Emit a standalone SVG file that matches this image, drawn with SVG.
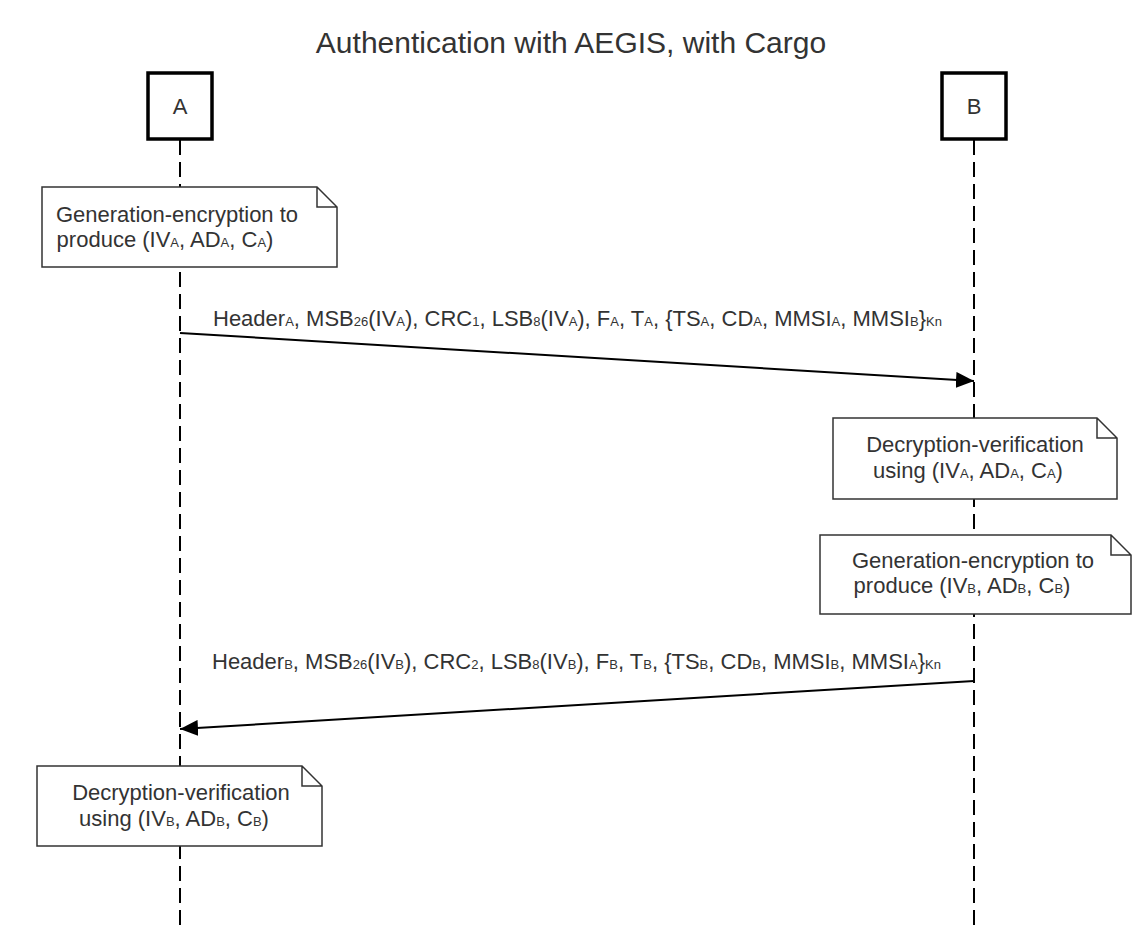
<svg xmlns="http://www.w3.org/2000/svg" width="1141" height="931" viewBox="0 0 1141 931">
<style>
text{font-family:"Liberation Sans",Arial,sans-serif;fill:#333333;}
.t{font-size:22px;}
.m{font-size:22px;}
.s{font-size:13px;}
.title{font-size:30px;}
.actor{fill:#ffffff;stroke:#000000;stroke-width:3.5;}
.life{stroke:#000000;stroke-width:2;stroke-dasharray:15 7;fill:none;}
.note{fill:#ffffff;stroke:#333333;stroke-width:1.5;}
.msg{stroke:#000000;stroke-width:2;fill:none;}
</style>
<defs>
<marker id="arr" viewBox="0 0 18 16" refX="18" refY="8" markerWidth="18" markerHeight="16" markerUnits="userSpaceOnUse" orient="auto">
<path d="M0,0 L18,8 L0,16 z" fill="#000000"/>
</marker>
</defs>
<rect width="1141" height="931" fill="#ffffff"/>
<text class="title" x="571" y="53" text-anchor="middle">Authentication with AEGIS, with Cargo</text>

<g id="lifelines">
<line class="life" x1="180" y1="140" x2="180" y2="931"/>
<line class="life" x1="974" y1="140" x2="974" y2="931"/>
</g>

<g id="actorA">
<rect class="actor" x="148" y="73" width="64" height="66"/>
<text class="t" x="180" y="114" text-anchor="middle">A</text>
</g>
<g id="actorB">
<rect class="actor" x="942" y="73" width="64" height="66"/>
<text class="t" x="974" y="114" text-anchor="middle">B</text>
</g>

<g id="note1">
<path class="note" d="M42,187 H317 L337,207 V267 H42 Z M317,187 V207 H337"/>
<text class="t" x="177" y="222" text-anchor="middle">Generation-encryption to</text>
<text class="t" x="165" y="247" text-anchor="middle">produce (IV<tspan class="s">A</tspan>, AD<tspan class="s">A</tspan>, C<tspan class="s">A</tspan>)</text>
</g>

<g id="note2">
<path class="note" d="M833,418 H1097 L1117,438 V499 H833 Z M1097,418 V438 H1117"/>
<text class="t" x="975" y="452" text-anchor="middle">Decryption-verification</text>
<text class="t" x="968" y="478" text-anchor="middle">using (IV<tspan class="s">A</tspan>, AD<tspan class="s">A</tspan>, C<tspan class="s">A</tspan>)</text>
</g>

<g id="note3">
<path class="note" d="M820,535 H1111 L1131,555 V614 H820 Z M1111,535 V555 H1131"/>
<text class="t" x="973" y="568" text-anchor="middle">Generation-encryption to</text>
<text class="t" x="962" y="593" text-anchor="middle">produce (IV<tspan class="s">B</tspan>, AD<tspan class="s">B</tspan>, C<tspan class="s">B</tspan>)</text>
</g>

<g id="note4">
<path class="note" d="M37,766 H302 L322,786 V846 H37 Z M302,766 V786 H322"/>
<text class="t" x="181" y="800" text-anchor="middle">Decryption-verification</text>
<text class="t" x="174" y="826" text-anchor="middle">using (IV<tspan class="s">B</tspan>, AD<tspan class="s">B</tspan>, C<tspan class="s">B</tspan>)</text>
</g>

<g id="connectors">
<line class="msg" x1="180" y1="333" x2="974" y2="381" marker-end="url(#arr)"/>
<text class="m" x="213" y="326">Header<tspan class="s">A</tspan>, MSB<tspan class="s">26</tspan>(IV<tspan class="s">A</tspan>), CRC<tspan class="s">1</tspan>, LSB<tspan class="s">8</tspan>(IV<tspan class="s">A</tspan>), F<tspan class="s">A</tspan>, T<tspan class="s">A</tspan>, {TS<tspan class="s">A</tspan>, CD<tspan class="s">A</tspan>, MMSI<tspan class="s">A</tspan>, MMSI<tspan class="s">B</tspan>}<tspan class="s">Kn</tspan></text>
<line class="msg" x1="974" y1="681" x2="180" y2="729" marker-end="url(#arr)"/>
<text class="m" x="212" y="669">Header<tspan class="s">B</tspan>, MSB<tspan class="s">26</tspan>(IV<tspan class="s">B</tspan>), CRC<tspan class="s">2</tspan>, LSB<tspan class="s">8</tspan>(IV<tspan class="s">B</tspan>), F<tspan class="s">B</tspan>, T<tspan class="s">B</tspan>, {TS<tspan class="s">B</tspan>, CD<tspan class="s">B</tspan>, MMSI<tspan class="s">B</tspan>, MMSI<tspan class="s">A</tspan>}<tspan class="s">Kn</tspan></text>
</g>
</svg>
